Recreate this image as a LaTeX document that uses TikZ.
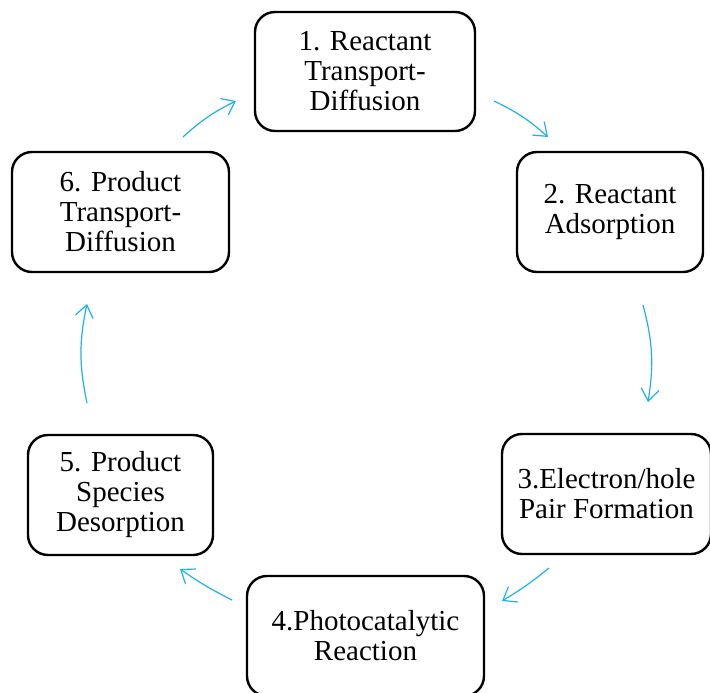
\documentclass[tikz,border=0pt]{standalone}
\usepackage{fontspec}
\setmainfont{Liberation Serif}
\usetikzlibrary{arrows.meta}
\definecolor{cyanc}{RGB}{30,176,232}
\begin{document}
\begin{tikzpicture}[x=1pt,y=-1pt,
 box/.style={draw, line width=2.4pt, rounded corners=20pt, align=center,
   font=\fontsize{29}{30}\selectfont, inner sep=0pt},
 flow/.style={cyanc, line width=1.2pt, -{Straight Barb[length=12pt, width=18pt]}}]
\useasboundingbox (0,0) rectangle (710,693);
\node[box, minimum width=220pt, minimum height=119pt] (b1) at (365,71.5) {1. Reactant\\Transport-\\Diffusion};
\node[box, minimum width=186pt, minimum height=120pt] (b2) at (610,212) {2. Reactant\\Adsorption};
\node[box, minimum width=209pt, minimum height=120pt] (b3) at (606.5,494) {3.Electron/hole\\Pair Formation};
\node[box, minimum width=237pt, minimum height=120pt] (b4) at (365.5,636) {4.Photocatalytic\\Reaction};
\node[box, minimum width=185pt, minimum height=120pt] (b5) at (120.5,495) {5. Product\\Species\\Desorption};
\node[box, minimum width=217pt, minimum height=120pt] (b6) at (120.5,212) {6. Product\\Transport-\\Diffusion};
\coordinate (a1s) at (494,101); \coordinate (a1e) at (548,137);
\coordinate (a2s) at (643,305); \coordinate (a2e) at (648,402);
\coordinate (a3s) at (549,568); \coordinate (a3e) at (502,601);
\coordinate (a4s) at (232,600); \coordinate (a4e) at (180,569);
\coordinate (a5s) at (87,403);  \coordinate (a5e) at (87,304);
\coordinate (a6s) at (183,137); \coordinate (a6e) at (236,101);
\draw[flow] (a1s) to[bend left=8] (a1e);
\draw[flow] (a2s) to[bend left=12] (a2e);
\draw[flow] (a3s) to[bend left=4] (a3e);
\draw[flow] (a4s) to[bend left=4] (a4e);
\draw[flow] (a5s) to[bend left=12] (a5e);
\draw[flow] (a6s) to[bend left=8] (a6e);
\end{tikzpicture}
\end{document}
